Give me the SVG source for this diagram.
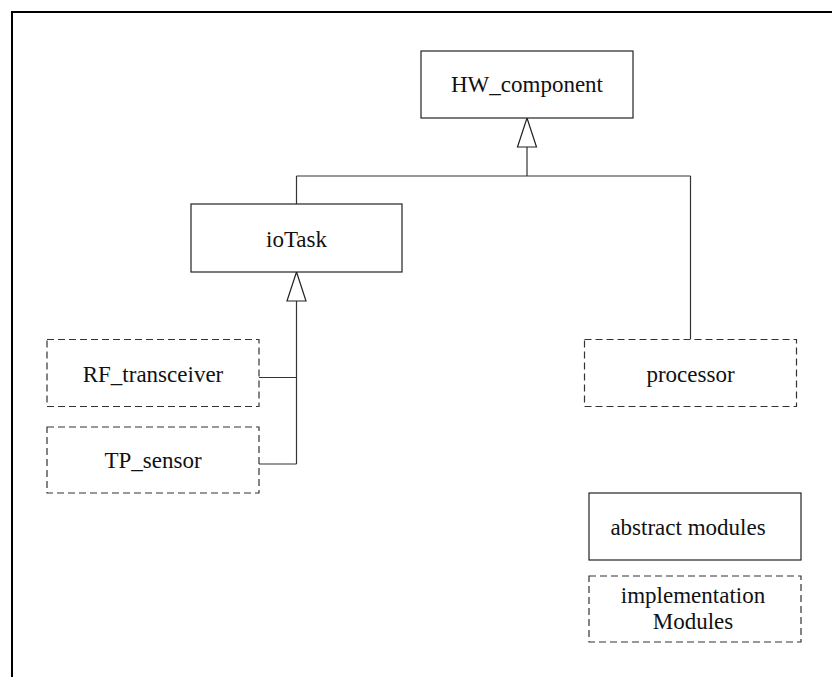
<svg xmlns="http://www.w3.org/2000/svg" width="832" height="677" viewBox="0 0 832 677">
<style>
.box{fill:#fff;stroke:#222;stroke-width:1.2}
.impl{fill:#fff;stroke:#333;stroke-width:1.2;stroke-dasharray:7 4}
.lbl{font-family:"Liberation Serif","Times New Roman",serif;font-size:23px;fill:#111;text-anchor:middle}
.conn{fill:none;stroke:#333;stroke-width:1.2}
.tri{fill:#fff;stroke:#222;stroke-width:1.2}
</style>
<rect x="0" y="0" width="832" height="677" fill="#fff"/>
<path d="M12,677 V12 H832" fill="none" stroke="#000" stroke-width="2"/>
<g id="connectors">
<path class="conn" d="M527,147 V176 M296.5,176 H690.5 M296.5,176 V204 M690.5,176 V339"/>
<polygon class="tri" points="527,118 517.5,147 536.5,147"/>
<path class="conn" d="M296.5,301 V464 M259,377.5 H296.5 M259,464 H296.5"/>
<polygon class="tri" points="296.5,272 287,301 306,301"/>
</g>
<g id="HW_component">
<rect class="box" x="421" y="51" width="212" height="67"/>
<text class="lbl" x="527" y="92">HW_component</text>
</g>
<g id="ioTask">
<rect class="box" x="191" y="204" width="211" height="68"/>
<text class="lbl" x="296.5" y="247">ioTask</text>
</g>
<g id="RF_transceiver">
<rect class="impl" x="47" y="339.5" width="212" height="67"/>
<text class="lbl" x="153" y="382">RF_transceiver</text>
</g>
<g id="TP_sensor">
<rect class="impl" x="47" y="427" width="212" height="66"/>
<text class="lbl" x="153" y="468">TP_sensor</text>
</g>
<g id="processor">
<rect class="impl" x="584.5" y="339.5" width="212" height="67"/>
<text class="lbl" x="690.5" y="382">processor</text>
</g>
<g id="abstract_modules">
<rect class="box" x="589" y="493" width="212" height="67"/>
<text class="lbl" x="688" y="535">abstract modules</text>
</g>
<g id="implementation_modules">
<rect class="impl" x="589" y="576" width="212" height="66"/>
<text class="lbl" x="693" y="603">implementation</text>
<text class="lbl" x="693" y="629">Modules</text>
</g>
</svg>
